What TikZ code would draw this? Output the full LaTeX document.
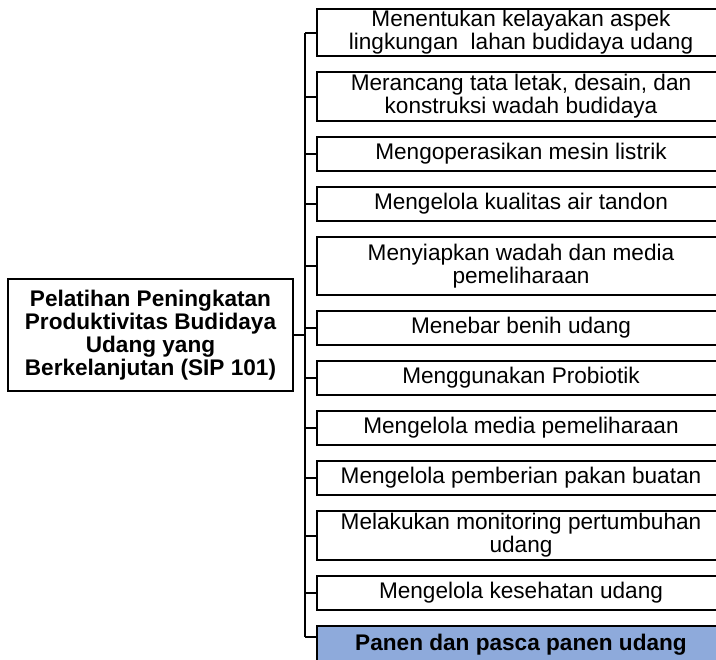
\documentclass[tikz,border=0pt]{standalone}
\usepackage{fontspec}
\setmainfont{Liberation Sans}
\usepackage{xcolor}
\usepackage{tikz}
\usetikzlibrary{positioning,calc}

\definecolor{panenblue}{RGB}{142,170,219}

\begin{document}
\begin{tikzpicture}[
  node distance=8pt,
  font=\fontsize{11.3}{11.5}\selectfont,
  line width=1pt,
  unit/.style={draw, align=center, outer sep=0pt, minimum width=204pt, minimum height=17pt, inner xsep=2pt, inner ysep=0.5pt},
  unittwo/.style={unit, minimum height=24.5pt},
  root/.style={draw, align=center, outer sep=0pt, font=\fontsize{11.3}{11.5}\selectfont\bfseries, minimum width=142.5pt, minimum height=56pt}
]
\useasboundingbox (0,0) rectangle (358pt,-329.5pt);
\clip (0,0) rectangle (358pt,-329.5pt);

\node[root] (root) at (75.25pt,-167.5pt) {Pelatihan Peningkatan\\Produktivitas Budidaya\\Udang yang\\Berkelanjutan (SIP 101)};

\node[unittwo, anchor=north west, minimum height=23.5pt] (p1) at (158.5pt,-4.5pt) {Menentukan kelayakan aspek\\lingkungan\ \ lahan budidaya udang};
\node[unittwo, below=of p1] (p2) {Merancang tata letak, desain, dan\\konstruksi wadah budidaya};
\node[unit, below=of p2] (p3) {Mengoperasikan mesin listrik};
\node[unit, below=of p3] (p4) {Mengelola kualitas air tandon};
\node[unittwo, below=of p4, minimum height=29pt] (p5) {Menyiapkan wadah dan media\\pemeliharaan};
\node[unit, below=of p5] (p6) {Menebar benih udang};
\node[unit, below=of p6] (p7) {Menggunakan Probiotik};
\node[unit, below=of p7] (p8) {Mengelola media pemeliharaan};
\node[unit, below=of p8] (p9) {Mengelola pemberian pakan buatan};
\node[unittwo, below=of p9] (p10) {Melakukan monitoring pertumbuhan\\udang};
\node[unit, below=of p10] (p11) {Mengelola kesehatan udang};
\node[unit, below=of p11, minimum height=19pt, fill=panenblue, font=\fontsize{11.3}{11.5}\selectfont\bfseries] (p12) {Panen dan pasca panen udang};

% bus line
\coordinate (bus) at (152.5pt,0);
\coordinate (s12) at ($(p12.north west)+(0,-5.5pt)$);
\draw (root.east) -- (bus |- root.east);
\draw (bus |- p1.west) -- (bus |- s12);
\foreach \i in {1,...,11}
  \draw (bus |- p\i.west) -- (p\i.west);
\draw (bus |- s12) -- (s12);
\end{tikzpicture}
\end{document}
